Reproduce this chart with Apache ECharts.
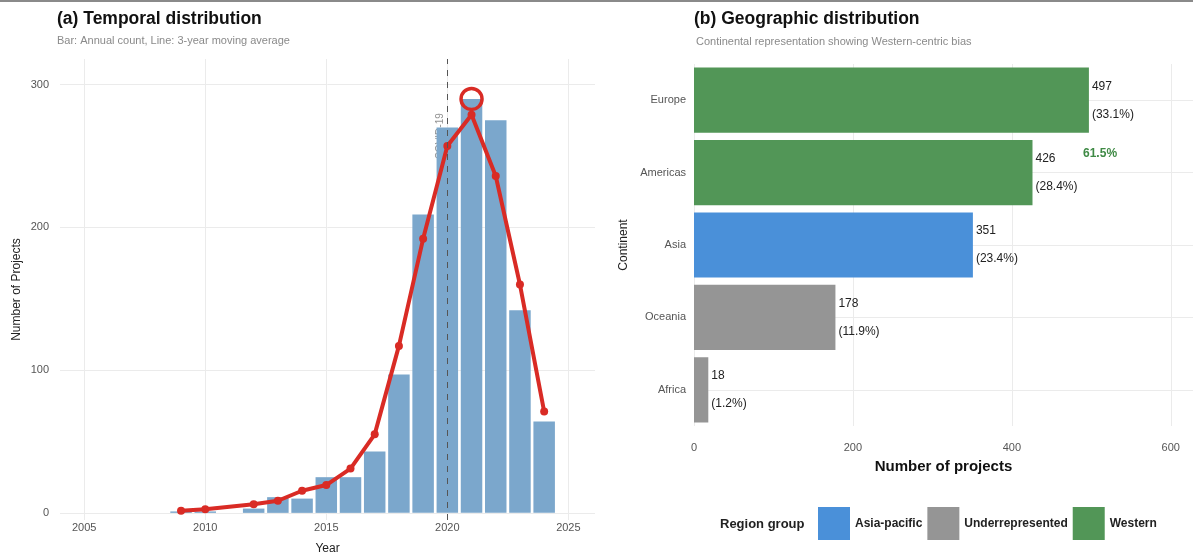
<!DOCTYPE html>
<html>
<head>
<meta charset="utf-8">
<title>Temporal and geographic distribution</title>
<script src="https://cdn.jsdelivr.net/npm/echarts@6/dist/echarts.min.js"></script>
<style>
  html, body { margin: 0; padding: 0; background: #fff; }
  #chart { width: 1193px; height: 553px; }
</style>
</head>
<body>
<div id="chart"></div>
<script>
// (a) annual counts and 3-year moving average
const years = [2009, 2010, 2012, 2013, 2014, 2015, 2016, 2017, 2018, 2019, 2020, 2021, 2022, 2023, 2024];
const annualCount = [1, 1, 3, 11, 10, 25, 25, 43, 97, 209, 270, 290, 275, 142, 64];
const movingAvg = [1.5, 2.5, 6, 8.5, 15.5, 19.5, 31, 55, 117, 192, 257, 279, 236, 160, 71];
const peakYear = 2021;
const peakCount = 290;
const covidYear = 2020;

// (b) continents
const continents = ['Europe', 'Americas', 'Asia', 'Oceania', 'Africa'];
const projects = [497, 426, 351, 178, 18];
const shares = ['33.1%', '28.4%', '23.4%', '11.9%', '1.2%'];
const regionGroup = ['Western', 'Western', 'Asia-pacific', 'Underrepresented', 'Underrepresented'];
const groups = ['Asia-pacific', 'Underrepresented', 'Western'];
const westernShare = '61.5%';

const FONT = '"Liberation Sans", Arial, sans-serif';
const groupColor = { 'Asia-pacific': '#4a90d9', 'Underrepresented': '#959595', 'Western': '#529657' };
const RED = '#d92b25';

const chart = echarts.init(document.getElementById('chart'), null, { renderer: 'canvas' });

function groupSeries(g) {
  const s = {
    name: g,
    type: 'bar',
    xAxisIndex: 1,
    yAxisIndex: 1,
    stack: 'grp',
    barWidth: '90%',
    itemStyle: { color: groupColor[g] },
    data: projects.map((v, i) => regionGroup[i] === g ? v : '-'),
    label: {
      show: true,
      position: 'right',
      distance: 3,
      color: '#222',
      fontSize: 12,
      fontFamily: FONT,
      lineHeight: 28,
      formatter: p => p.value + '\n(' + shares[p.dataIndex] + ')'
    }
  };
  if (g === 'Western') {
    s.markPoint = {
      silent: true,
      symbol: 'circle',
      symbolSize: 1,
      itemStyle: { color: 'rgba(0,0,0,0)' },
      label: { show: true, formatter: westernShare, color: '#3f8a45', fontWeight: 'bold', fontSize: 12, fontFamily: FONT, offset: [0, -19] },
      data: [{ coord: [511, 'Americas'] }]
    };
  }
  return s;
}

const option = {
  backgroundColor: '#fff',
  animation: false,
  textStyle: { fontFamily: FONT },
  title: [
    { text: '(a) Temporal distribution', left: 52, top: 5, textStyle: { fontSize: 17.5, fontWeight: 'bold', color: '#111', fontFamily: FONT } },
    { text: 'Bar: Annual count, Line: 3-year moving average', left: 52, top: 30, textStyle: { fontSize: 11, fontWeight: 'normal', color: '#8a8a8a', fontFamily: FONT } },
    { text: '(b) Geographic distribution', left: 689, top: 5, textStyle: { fontSize: 17.5, fontWeight: 'bold', color: '#111', fontFamily: FONT } },
    { text: 'Continental representation showing Western-centric bias', left: 691, top: 31, textStyle: { fontSize: 11, fontWeight: 'normal', color: '#8a8a8a', fontFamily: FONT } },
    { text: 'Region group', left: 715, top: 513, textStyle: { fontSize: 13, fontWeight: 'bold', color: '#222', fontFamily: FONT } }
  ],
  legend: {
    data: groups,
    left: 813,
    top: 502,
    itemWidth: 32,
    itemHeight: 33,
    itemGap: 5,
    icon: 'rect',
    selectedMode: false,
    textStyle: { fontSize: 12, fontWeight: 'bold', color: '#222', fontFamily: FONT }
  },
  grid: [
    { left: 60, right: 598, top: 59, bottom: 33, outerBoundsMode: 'none', containLabel: false },
    { left: 694, right: 0, top: 64, bottom: 127, outerBoundsMode: 'none', containLabel: false }
  ],
  xAxis: [
    {
      gridIndex: 0, type: 'value', min: 2004, max: 2026.1,
      name: 'Year', nameLocation: 'middle', nameGap: 23,
      nameTextStyle: { fontSize: 12, color: '#222', fontFamily: FONT },
      axisLine: { show: false }, axisTick: { show: false },
      axisLabel: { color: '#555', fontSize: 11, margin: 2, formatter: v => (v % 5 === 0 ? String(v) : '') },
      splitLine: { show: true, showMinLine: false, showMaxLine: false, lineStyle: { color: '#ebebeb', width: 1 } }
    },
    {
      gridIndex: 1, type: 'value', min: 0, max: 628, interval: 200,
      name: 'Number of projects', nameLocation: 'middle', nameGap: 33,
      nameTextStyle: { fontSize: 15, fontWeight: 'bold', color: '#111', fontFamily: FONT },
      axisLine: { show: false }, axisTick: { show: false },
      axisLabel: { color: '#555', fontSize: 11, margin: 16, formatter: v => (v % 200 === 0 ? String(v) : '') },
      splitLine: { show: true, showMaxLine: false, lineStyle: { color: '#ebebeb', width: 1 } }
    }
  ],
  yAxis: [
    {
      gridIndex: 0, type: 'value', min: -5, max: 318, splitNumber: 3,
      name: 'Number of Projects', nameLocation: 'middle', nameGap: 37, nameRotate: 90,
      nameTextStyle: { fontSize: 12, color: '#222', fontFamily: FONT },
      axisLine: { show: false }, axisTick: { show: false },
      axisLabel: { color: '#555', fontSize: 11, margin: 11, formatter: v => (v % 100 === 0 ? String(v) : '') },
      splitLine: { show: true, showMinLine: false, showMaxLine: false, lineStyle: { color: '#ebebeb', width: 1 } }
    },
    {
      gridIndex: 1, type: 'category', data: continents, inverse: true,
      name: 'Continent', nameLocation: 'middle', nameGap: 64, nameRotate: 90,
      nameTextStyle: { fontSize: 12, color: '#222', fontFamily: FONT },
      axisLine: { show: false }, axisTick: { show: false },
      axisLabel: { color: '#555', fontSize: 11, margin: 8 },
      splitLine: { show: false }
    },
    {
      // helper axis: gridlines through the centre of each continent band
      gridIndex: 1, type: 'value', min: -0.5, max: 4.5, splitNumber: 5,
      axisLine: { show: false }, axisTick: { show: false }, axisLabel: { show: false },
      splitLine: { show: true, showMinLine: false, showMaxLine: false, lineStyle: { color: '#ebebeb', width: 1 } }
    }
  ],
  series: [
    {
      name: 'covid-label',
      type: 'scatter',
      xAxisIndex: 0, yAxisIndex: 0,
      silent: true,
      symbolSize: 0,
      data: [[covidYear - 0.3, 280]],
      label: {
        show: true, position: 'inside', rotate: 90, align: 'right', verticalAlign: 'middle',
        formatter: 'COVID-19', color: '#777', fontSize: 10, fontFamily: FONT
      },
      z: 1
    },
    {
      name: 'Annual count',
      type: 'bar',
      xAxisIndex: 0, yAxisIndex: 0,
      barWidth: 21.5,
      itemStyle: { color: '#7ba7cc' },
      data: years.map((y, i) => [y, annualCount[i]]),
      markLine: {
        silent: true,
        symbol: 'none',
        label: { show: false },
        lineStyle: { color: '#555', type: [6, 6], width: 1 },
        data: [{ xAxis: covidYear }]
      },
      z: 2
    },
    {
      name: '3-year moving average',
      type: 'line',
      xAxisIndex: 0, yAxisIndex: 0,
      data: years.map((y, i) => [y, movingAvg[i]]),
      symbol: 'circle',
      symbolSize: 8,
      lineStyle: { color: RED, width: 4 },
      itemStyle: { color: RED },
      markPoint: {
        silent: true,
        symbol: 'circle',
        symbolSize: 21,
        itemStyle: { color: 'rgba(0,0,0,0)', borderColor: RED, borderWidth: 3.5 },
        label: { show: false },
        data: [{ coord: [peakYear, peakCount] }]
      },
      z: 3
    },
    ...groups.map(groupSeries)
  ],
  graphic: [
    { type: 'rect', left: 0, top: 0, shape: { width: 1193, height: 2 }, style: { fill: '#8a8a8a' }, silent: true }
  ]
};

chart.setOption(option);
</script>
</body>
</html>
